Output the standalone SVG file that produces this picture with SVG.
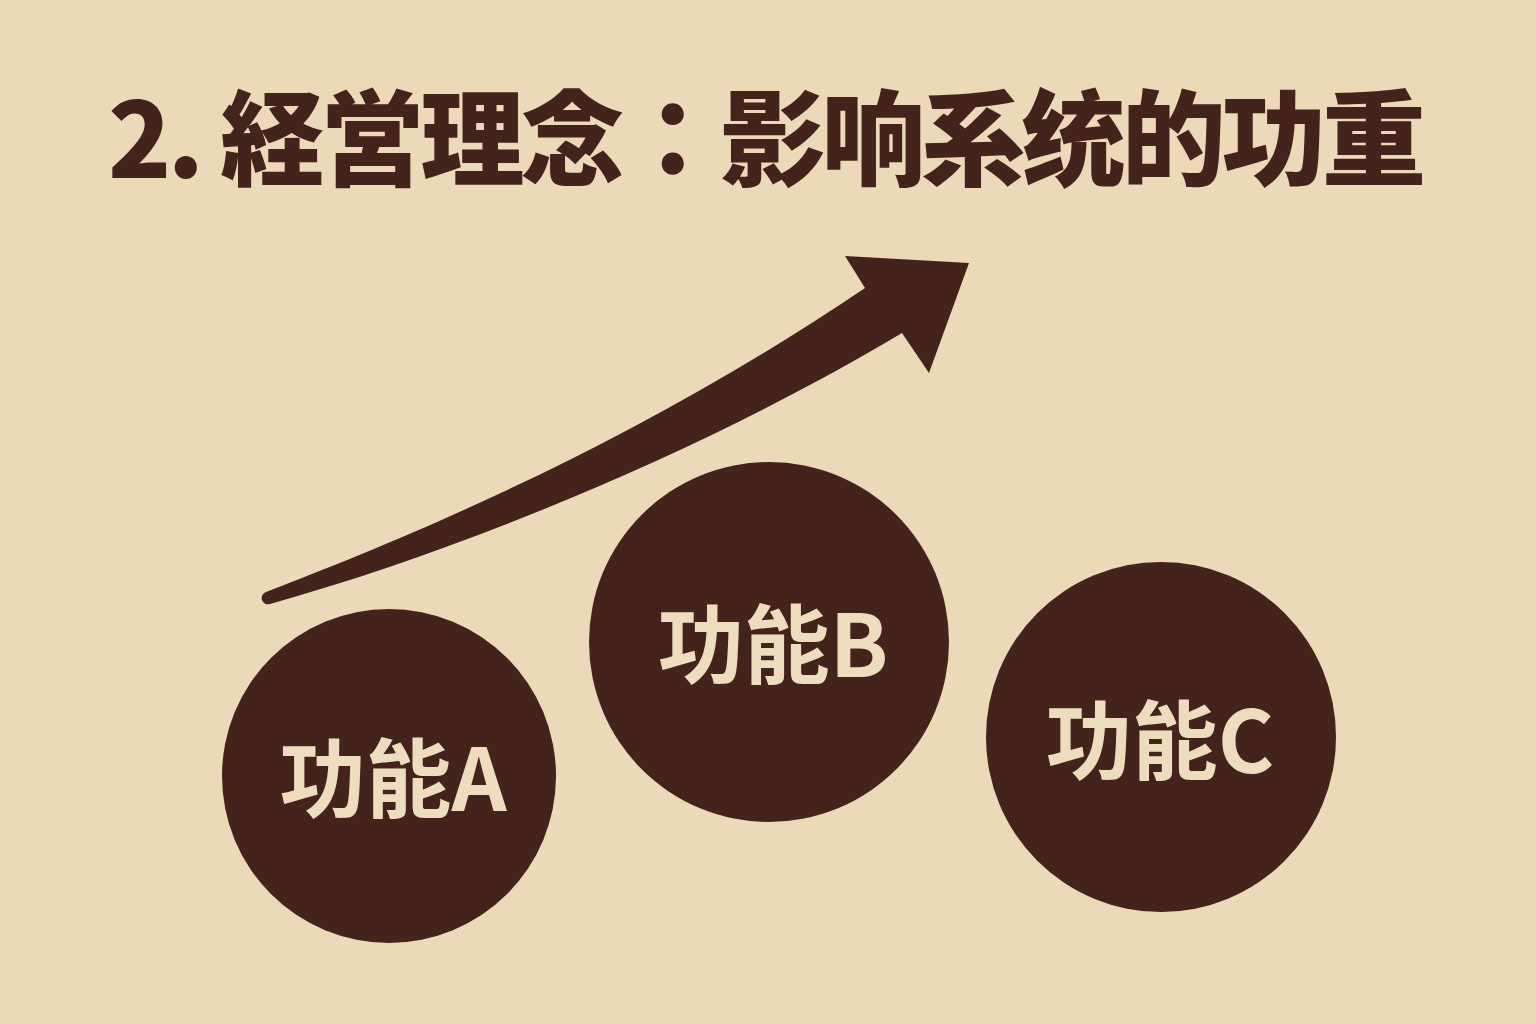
<svg xmlns="http://www.w3.org/2000/svg" width="1536" height="1024" viewBox="0 0 1536 1024">
  <defs>
    <style>
      .bg { fill: #EBD9B8; }
      .dark { fill: #43231B; }
      .title { font-family: "Noto Sans CJK JP", "Noto Sans CJK SC", sans-serif; font-weight: 900; font-size: 104px; fill: #43231B; }
      .label { font-family: "Noto Sans CJK SC", "Noto Sans CJK JP", sans-serif; font-weight: 700; font-size: 86px; fill: #EEDDBD; text-anchor: middle; }
    </style>
  </defs>
  <rect class="bg" x="0" y="0" width="1536" height="1024"/>
  <g id="title">
    <text class="title" x="108" y="178" textLength="1318" lengthAdjust="spacing">2. 経営理念：影响系统的功重</text>
  </g>
  <g id="connectors">
    <path id="arrow" class="dark" d="M 266 592 C 420 533, 640 440, 865 288 L 845 256 L 969 263 L 929 373 L 902 333 C 720 442, 480 545, 270 604 A 6 6 0 0 1 266 592 Z"/>
  </g>
  <g id="node-a">
    <circle class="dark" cx="389" cy="776" r="167"/>
    <text class="label" x="393" y="811">功能A</text>
  </g>
  <g id="node-b">
    <circle class="dark" cx="769" cy="642" r="180"/>
    <text class="label" x="773" y="677">功能B</text>
  </g>
  <g id="node-c">
    <circle class="dark" cx="1161" cy="737" r="175"/>
    <text class="label" x="1160" y="773">功能C</text>
  </g>
</svg>
